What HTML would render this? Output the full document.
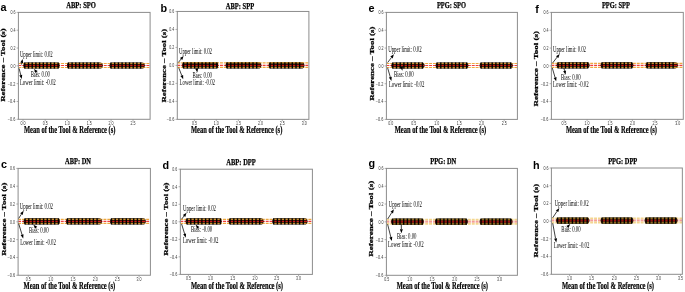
<!DOCTYPE html>
<html><head><meta charset="utf-8"><style>
html,body{margin:0;padding:0;background:#fff;overflow:hidden}
svg{display:block;will-change:transform}
</style></head><body>
<svg xmlns="http://www.w3.org/2000/svg" width="685" height="292" viewBox="0 0 685 292">
<rect width="685" height="292" fill="#fff"/>
<g><line x1="18.4" y1="63.5" x2="150.1" y2="63.5" stroke="#eea940" stroke-width="1.15" stroke-dasharray="2.95 0.93" stroke-dashoffset="0"/><line x1="18.4" y1="65.5" x2="150.1" y2="65.5" stroke="#f03c3c" stroke-width="1.15" stroke-dasharray="2.95 0.93" stroke-dashoffset="0"/><line x1="18.4" y1="67.5" x2="150.1" y2="67.5" stroke="#eea940" stroke-width="1.15" stroke-dasharray="2.95 0.93" stroke-dashoffset="0"/><rect x="23.3" y="62.4" width="36.4" height="6.2" rx="3.1" ry="3.1" fill="#140800"/><rect x="24.3" y="62.85" width="34.4" height="1.3" fill="#c99030"/><rect x="23.8" y="64.85" width="35.4" height="1.3" fill="#cc1818"/><rect x="24.3" y="66.85" width="34.4" height="1.3" fill="#c99030"/><rect x="24.1" y="62.4" width="1.4" height="6.2" fill="#000"/><rect x="27.8" y="62.4" width="1.4" height="6.2" fill="#000"/><rect x="31.5" y="62.4" width="1.4" height="6.2" fill="#000"/><rect x="35.2" y="62.4" width="1.4" height="6.2" fill="#000"/><rect x="38.9" y="62.4" width="1.4" height="6.2" fill="#000"/><rect x="42.6" y="62.4" width="1.4" height="6.2" fill="#000"/><rect x="46.3" y="62.4" width="1.4" height="6.2" fill="#000"/><rect x="50" y="62.4" width="1.4" height="6.2" fill="#000"/><rect x="53.7" y="62.4" width="1.4" height="6.2" fill="#000"/><rect x="57.4" y="62.4" width="1.4" height="6.2" fill="#000"/><rect x="66.9" y="62.4" width="35.9" height="6.2" rx="3.1" ry="3.1" fill="#140800"/><rect x="67.9" y="62.85" width="33.9" height="1.3" fill="#c99030"/><rect x="67.4" y="64.85" width="34.9" height="1.3" fill="#cc1818"/><rect x="67.9" y="66.85" width="33.9" height="1.3" fill="#c99030"/><rect x="67.7" y="62.4" width="1.4" height="6.2" fill="#000"/><rect x="71.4" y="62.4" width="1.4" height="6.2" fill="#000"/><rect x="75.1" y="62.4" width="1.4" height="6.2" fill="#000"/><rect x="78.8" y="62.4" width="1.4" height="6.2" fill="#000"/><rect x="82.5" y="62.4" width="1.4" height="6.2" fill="#000"/><rect x="86.2" y="62.4" width="1.4" height="6.2" fill="#000"/><rect x="89.9" y="62.4" width="1.4" height="6.2" fill="#000"/><rect x="93.6" y="62.4" width="1.4" height="6.2" fill="#000"/><rect x="97.3" y="62.4" width="1.4" height="6.2" fill="#000"/><rect x="109.5" y="62.4" width="35.3" height="6.2" rx="3.1" ry="3.1" fill="#140800"/><rect x="110.5" y="62.85" width="33.3" height="1.3" fill="#c99030"/><rect x="110" y="64.85" width="34.3" height="1.3" fill="#cc1818"/><rect x="110.5" y="66.85" width="33.3" height="1.3" fill="#c99030"/><rect x="110.3" y="62.4" width="1.4" height="6.2" fill="#000"/><rect x="114" y="62.4" width="1.4" height="6.2" fill="#000"/><rect x="117.7" y="62.4" width="1.4" height="6.2" fill="#000"/><rect x="121.4" y="62.4" width="1.4" height="6.2" fill="#000"/><rect x="125.1" y="62.4" width="1.4" height="6.2" fill="#000"/><rect x="128.8" y="62.4" width="1.4" height="6.2" fill="#000"/><rect x="132.5" y="62.4" width="1.4" height="6.2" fill="#000"/><rect x="136.2" y="62.4" width="1.4" height="6.2" fill="#000"/><rect x="139.9" y="62.4" width="1.4" height="6.2" fill="#000"/><rect x="18.4" y="12.4" width="131.7" height="106.9" fill="none" stroke="#8c8c8c" stroke-width="1"/><line x1="16.6" y1="12.4" x2="18.4" y2="12.4" stroke="#8c8c8c" stroke-width="0.7"/><text x="15.4" y="14.3" text-anchor="end" font-family="'Liberation Sans', sans-serif" font-size="4.5" fill="#383838" textLength="5.0" lengthAdjust="spacingAndGlyphs">0.6</text><line x1="16.6" y1="30.22" x2="18.4" y2="30.22" stroke="#8c8c8c" stroke-width="0.7"/><text x="15.4" y="32.12" text-anchor="end" font-family="'Liberation Sans', sans-serif" font-size="4.5" fill="#383838" textLength="5.0" lengthAdjust="spacingAndGlyphs">0.4</text><line x1="16.6" y1="48.03" x2="18.4" y2="48.03" stroke="#8c8c8c" stroke-width="0.7"/><text x="15.4" y="49.93" text-anchor="end" font-family="'Liberation Sans', sans-serif" font-size="4.5" fill="#383838" textLength="5.0" lengthAdjust="spacingAndGlyphs">0.2</text><line x1="16.6" y1="65.85" x2="18.4" y2="65.85" stroke="#8c8c8c" stroke-width="0.7"/><text x="15.4" y="67.75" text-anchor="end" font-family="'Liberation Sans', sans-serif" font-size="4.5" fill="#383838" textLength="5.0" lengthAdjust="spacingAndGlyphs">0.0</text><line x1="16.6" y1="83.67" x2="18.4" y2="83.67" stroke="#8c8c8c" stroke-width="0.7"/><text x="15.4" y="85.57" text-anchor="end" font-family="'Liberation Sans', sans-serif" font-size="4.5" fill="#383838" textLength="7.6" lengthAdjust="spacingAndGlyphs">−0.2</text><line x1="16.6" y1="101.48" x2="18.4" y2="101.48" stroke="#8c8c8c" stroke-width="0.7"/><text x="15.4" y="103.38" text-anchor="end" font-family="'Liberation Sans', sans-serif" font-size="4.5" fill="#383838" textLength="7.6" lengthAdjust="spacingAndGlyphs">−0.4</text><line x1="16.6" y1="119.3" x2="18.4" y2="119.3" stroke="#8c8c8c" stroke-width="0.7"/><text x="15.4" y="121.2" text-anchor="end" font-family="'Liberation Sans', sans-serif" font-size="4.5" fill="#383838" textLength="7.6" lengthAdjust="spacingAndGlyphs">−0.6</text><line x1="23" y1="119.3" x2="23" y2="121.1" stroke="#8c8c8c" stroke-width="0.7"/><text x="20.5" y="124.9" font-family="'Liberation Sans', sans-serif" font-size="4.5" fill="#383838" textLength="5" lengthAdjust="spacingAndGlyphs">0.0</text><line x1="45.2" y1="119.3" x2="45.2" y2="121.1" stroke="#8c8c8c" stroke-width="0.7"/><text x="42.7" y="124.9" font-family="'Liberation Sans', sans-serif" font-size="4.5" fill="#383838" textLength="5" lengthAdjust="spacingAndGlyphs">0.5</text><line x1="67.2" y1="119.3" x2="67.2" y2="121.1" stroke="#8c8c8c" stroke-width="0.7"/><text x="64.7" y="124.9" font-family="'Liberation Sans', sans-serif" font-size="4.5" fill="#383838" textLength="5" lengthAdjust="spacingAndGlyphs">1.0</text><line x1="89.2" y1="119.3" x2="89.2" y2="121.1" stroke="#8c8c8c" stroke-width="0.7"/><text x="86.7" y="124.9" font-family="'Liberation Sans', sans-serif" font-size="4.5" fill="#383838" textLength="5" lengthAdjust="spacingAndGlyphs">1.5</text><line x1="111.1" y1="119.3" x2="111.1" y2="121.1" stroke="#8c8c8c" stroke-width="0.7"/><text x="108.6" y="124.9" font-family="'Liberation Sans', sans-serif" font-size="4.5" fill="#383838" textLength="5" lengthAdjust="spacingAndGlyphs">2.0</text><line x1="133" y1="119.3" x2="133" y2="121.1" stroke="#8c8c8c" stroke-width="0.7"/><text x="130.5" y="124.9" font-family="'Liberation Sans', sans-serif" font-size="4.5" fill="#383838" textLength="5" lengthAdjust="spacingAndGlyphs">2.5</text><text x="66.2" y="7.8" font-family="'Liberation Serif', serif" font-weight="bold" font-size="9.2" stroke="#000" stroke-width="0.25" textLength="29.8" lengthAdjust="spacingAndGlyphs">ABP: SPO</text><text x="0.5" y="11.3" font-family="'Liberation Sans', sans-serif" font-weight="bold" font-size="10.8">a</text><text x="0" y="0" font-family="'Liberation Serif', serif" font-weight="bold" font-size="7.0" stroke="#000" stroke-width="0.25" textLength="73.5" lengthAdjust="spacingAndGlyphs" transform="translate(5.3 101.8) rotate(-90)">Reference – Tool (s)</text><text x="23.9" y="133.2" font-family="'Liberation Serif', serif" font-weight="bold" font-size="9.4" stroke="#000" stroke-width="0.2" textLength="91.5" lengthAdjust="spacingAndGlyphs">Mean of the Tool &amp; Reference (s)</text><text x="19.9" y="56.8" font-family="'Liberation Serif', serif" font-size="7.2" fill="#000" textLength="32.8" lengthAdjust="spacingAndGlyphs">Upper limit: 0.02</text><text x="19.9" y="84.8" font-family="'Liberation Serif', serif" font-size="7.2" fill="#000" textLength="35.9" lengthAdjust="spacingAndGlyphs">Lower limit: -0.02</text><text x="30.7" y="76.8" font-family="'Liberation Serif', serif" font-size="7.2" fill="#000" textLength="19.2" lengthAdjust="spacingAndGlyphs">Bias: 0.00</text><line x1="21.4" y1="64.5" x2="21.76" y2="62.81" stroke="#000" stroke-width="0.75"/><path d="M22.6,58.9 L23.23,63.13 L20.3,62.5 Z" fill="#000"/><line x1="37" y1="72.6" x2="36.55" y2="72.09" stroke="#000" stroke-width="0.75"/><path d="M33.9,69.1 L37.68,71.1 L35.43,73.09 Z" fill="#000"/><line x1="19.1" y1="68.4" x2="20.74" y2="75.02" stroke="#000" stroke-width="0.75"/><path d="M21.7,78.9 L19.28,75.38 L22.19,74.66 Z" fill="#000"/></g><g><line x1="177.3" y1="62.85" x2="308.9" y2="62.85" stroke="#eea940" stroke-width="1.15" stroke-dasharray="2.95 0.93" stroke-dashoffset="0"/><line x1="177.3" y1="65.4" x2="308.9" y2="65.4" stroke="#f03c3c" stroke-width="1.15" stroke-dasharray="2.95 0.93" stroke-dashoffset="0"/><line x1="177.3" y1="67.35" x2="308.9" y2="67.35" stroke="#eea940" stroke-width="1.15" stroke-dasharray="2.95 0.93" stroke-dashoffset="0"/><rect x="182.1" y="62.3" width="36.1" height="6.2" rx="3.1" ry="3.1" fill="#140800"/><rect x="183.1" y="62.2" width="34.1" height="1.3" fill="#c99030"/><rect x="182.6" y="64.75" width="35.1" height="1.3" fill="#cc1818"/><rect x="183.1" y="66.7" width="34.1" height="1.3" fill="#c99030"/><rect x="182.9" y="62.3" width="1.4" height="6.2" fill="#000"/><rect x="186.6" y="62.3" width="1.4" height="6.2" fill="#000"/><rect x="190.3" y="62.3" width="1.4" height="6.2" fill="#000"/><rect x="194" y="62.3" width="1.4" height="6.2" fill="#000"/><rect x="197.7" y="62.3" width="1.4" height="6.2" fill="#000"/><rect x="201.4" y="62.3" width="1.4" height="6.2" fill="#000"/><rect x="205.1" y="62.3" width="1.4" height="6.2" fill="#000"/><rect x="208.8" y="62.3" width="1.4" height="6.2" fill="#000"/><rect x="212.5" y="62.3" width="1.4" height="6.2" fill="#000"/><rect x="216.2" y="62.3" width="1.4" height="6.2" fill="#000"/><rect x="225.6" y="62.3" width="35.7" height="6.2" rx="3.1" ry="3.1" fill="#140800"/><rect x="226.6" y="62.2" width="33.7" height="1.3" fill="#c99030"/><rect x="226.1" y="64.75" width="34.7" height="1.3" fill="#cc1818"/><rect x="226.6" y="66.7" width="33.7" height="1.3" fill="#c99030"/><rect x="226.4" y="62.3" width="1.4" height="6.2" fill="#000"/><rect x="230.1" y="62.3" width="1.4" height="6.2" fill="#000"/><rect x="233.8" y="62.3" width="1.4" height="6.2" fill="#000"/><rect x="237.5" y="62.3" width="1.4" height="6.2" fill="#000"/><rect x="241.2" y="62.3" width="1.4" height="6.2" fill="#000"/><rect x="244.9" y="62.3" width="1.4" height="6.2" fill="#000"/><rect x="248.6" y="62.3" width="1.4" height="6.2" fill="#000"/><rect x="252.3" y="62.3" width="1.4" height="6.2" fill="#000"/><rect x="256" y="62.3" width="1.4" height="6.2" fill="#000"/><rect x="268.6" y="62.3" width="35.8" height="6.2" rx="3.1" ry="3.1" fill="#140800"/><rect x="269.6" y="62.2" width="33.8" height="1.3" fill="#c99030"/><rect x="269.1" y="64.75" width="34.8" height="1.3" fill="#cc1818"/><rect x="269.6" y="66.7" width="33.8" height="1.3" fill="#c99030"/><rect x="269.4" y="62.3" width="1.4" height="6.2" fill="#000"/><rect x="273.1" y="62.3" width="1.4" height="6.2" fill="#000"/><rect x="276.8" y="62.3" width="1.4" height="6.2" fill="#000"/><rect x="280.5" y="62.3" width="1.4" height="6.2" fill="#000"/><rect x="284.2" y="62.3" width="1.4" height="6.2" fill="#000"/><rect x="287.9" y="62.3" width="1.4" height="6.2" fill="#000"/><rect x="291.6" y="62.3" width="1.4" height="6.2" fill="#000"/><rect x="295.3" y="62.3" width="1.4" height="6.2" fill="#000"/><rect x="299" y="62.3" width="1.4" height="6.2" fill="#000"/><rect x="177.3" y="11.45" width="131.6" height="107.9" fill="none" stroke="#8c8c8c" stroke-width="1"/><line x1="175.5" y1="11.45" x2="177.3" y2="11.45" stroke="#8c8c8c" stroke-width="0.7"/><text x="174.3" y="13.35" text-anchor="end" font-family="'Liberation Sans', sans-serif" font-size="4.5" fill="#383838" textLength="5.0" lengthAdjust="spacingAndGlyphs">0.6</text><line x1="175.5" y1="29.43" x2="177.3" y2="29.43" stroke="#8c8c8c" stroke-width="0.7"/><text x="174.3" y="31.33" text-anchor="end" font-family="'Liberation Sans', sans-serif" font-size="4.5" fill="#383838" textLength="5.0" lengthAdjust="spacingAndGlyphs">0.4</text><line x1="175.5" y1="47.42" x2="177.3" y2="47.42" stroke="#8c8c8c" stroke-width="0.7"/><text x="174.3" y="49.32" text-anchor="end" font-family="'Liberation Sans', sans-serif" font-size="4.5" fill="#383838" textLength="5.0" lengthAdjust="spacingAndGlyphs">0.2</text><line x1="175.5" y1="65.4" x2="177.3" y2="65.4" stroke="#8c8c8c" stroke-width="0.7"/><text x="174.3" y="67.3" text-anchor="end" font-family="'Liberation Sans', sans-serif" font-size="4.5" fill="#383838" textLength="5.0" lengthAdjust="spacingAndGlyphs">0.0</text><line x1="175.5" y1="83.38" x2="177.3" y2="83.38" stroke="#8c8c8c" stroke-width="0.7"/><text x="174.3" y="85.28" text-anchor="end" font-family="'Liberation Sans', sans-serif" font-size="4.5" fill="#383838" textLength="7.6" lengthAdjust="spacingAndGlyphs">−0.2</text><line x1="175.5" y1="101.37" x2="177.3" y2="101.37" stroke="#8c8c8c" stroke-width="0.7"/><text x="174.3" y="103.27" text-anchor="end" font-family="'Liberation Sans', sans-serif" font-size="4.5" fill="#383838" textLength="7.6" lengthAdjust="spacingAndGlyphs">−0.4</text><line x1="175.5" y1="119.35" x2="177.3" y2="119.35" stroke="#8c8c8c" stroke-width="0.7"/><text x="174.3" y="121.25" text-anchor="end" font-family="'Liberation Sans', sans-serif" font-size="4.5" fill="#383838" textLength="7.6" lengthAdjust="spacingAndGlyphs">−0.6</text><line x1="194.4" y1="119.35" x2="194.4" y2="121.15" stroke="#8c8c8c" stroke-width="0.7"/><text x="191.9" y="124.95" font-family="'Liberation Sans', sans-serif" font-size="4.5" fill="#383838" textLength="5" lengthAdjust="spacingAndGlyphs">0.5</text><line x1="216.3" y1="119.35" x2="216.3" y2="121.15" stroke="#8c8c8c" stroke-width="0.7"/><text x="213.8" y="124.95" font-family="'Liberation Sans', sans-serif" font-size="4.5" fill="#383838" textLength="5" lengthAdjust="spacingAndGlyphs">1.0</text><line x1="238.4" y1="119.35" x2="238.4" y2="121.15" stroke="#8c8c8c" stroke-width="0.7"/><text x="235.9" y="124.95" font-family="'Liberation Sans', sans-serif" font-size="4.5" fill="#383838" textLength="5" lengthAdjust="spacingAndGlyphs">1.5</text><line x1="260.4" y1="119.35" x2="260.4" y2="121.15" stroke="#8c8c8c" stroke-width="0.7"/><text x="257.9" y="124.95" font-family="'Liberation Sans', sans-serif" font-size="4.5" fill="#383838" textLength="5" lengthAdjust="spacingAndGlyphs">2.0</text><line x1="282.3" y1="119.35" x2="282.3" y2="121.15" stroke="#8c8c8c" stroke-width="0.7"/><text x="279.8" y="124.95" font-family="'Liberation Sans', sans-serif" font-size="4.5" fill="#383838" textLength="5" lengthAdjust="spacingAndGlyphs">2.5</text><line x1="304.2" y1="119.35" x2="304.2" y2="121.15" stroke="#8c8c8c" stroke-width="0.7"/><text x="301.7" y="124.95" font-family="'Liberation Sans', sans-serif" font-size="4.5" fill="#383838" textLength="5" lengthAdjust="spacingAndGlyphs">3.0</text><text x="225.8" y="8.6" font-family="'Liberation Serif', serif" font-weight="bold" font-size="9.2" stroke="#000" stroke-width="0.25" textLength="28.3" lengthAdjust="spacingAndGlyphs">ABP: SPP</text><text x="160.6" y="11.7" font-family="'Liberation Sans', sans-serif" font-weight="bold" font-size="10.8">b</text><text x="0" y="0" font-family="'Liberation Serif', serif" font-weight="bold" font-size="7.0" stroke="#000" stroke-width="0.25" textLength="73.6" lengthAdjust="spacingAndGlyphs" transform="translate(165.6 102.5) rotate(-90)">Reference – Tool (s)</text><text x="191" y="133.2" font-family="'Liberation Serif', serif" font-weight="bold" font-size="9.4" stroke="#000" stroke-width="0.2" textLength="91.3" lengthAdjust="spacingAndGlyphs">Mean of the Tool &amp; Reference (s)</text><text x="179" y="53.6" font-family="'Liberation Serif', serif" font-size="7.2" fill="#000" textLength="33" lengthAdjust="spacingAndGlyphs">Upper limit: 0.02</text><text x="179.6" y="84.9" font-family="'Liberation Serif', serif" font-size="7.2" fill="#000" textLength="35.4" lengthAdjust="spacingAndGlyphs">Lower limit: -0.02</text><text x="192.5" y="77.7" font-family="'Liberation Serif', serif" font-size="7.2" fill="#000" textLength="19.5" lengthAdjust="spacingAndGlyphs">Bias: 0.00</text><line x1="178.4" y1="62.4" x2="181.1" y2="59.02" stroke="#000" stroke-width="0.75"/><path d="M183.6,55.9 L182.27,59.96 L179.93,58.09 Z" fill="#000"/><line x1="196.6" y1="67.8" x2="196.7" y2="68.45" stroke="#000" stroke-width="0.75"/><path d="M197.3,72.4 L195.22,68.67 L198.18,68.22 Z" fill="#000"/><line x1="178.7" y1="67.7" x2="181.74" y2="75.48" stroke="#000" stroke-width="0.75"/><path d="M183.2,79.2 L180.35,76.02 L183.14,74.93 Z" fill="#000"/></g><g><line x1="18.1" y1="219.4" x2="150.4" y2="219.4" stroke="#eea940" stroke-width="1.15" stroke-dasharray="2.95 0.93" stroke-dashoffset="0"/><line x1="18.1" y1="221.4" x2="150.4" y2="221.4" stroke="#f03c3c" stroke-width="1.15" stroke-dasharray="2.95 0.93" stroke-dashoffset="0"/><line x1="18.1" y1="223.4" x2="150.4" y2="223.4" stroke="#eea940" stroke-width="1.15" stroke-dasharray="2.95 0.93" stroke-dashoffset="0"/><rect x="23.6" y="218.3" width="36.3" height="6.2" rx="3.1" ry="3.1" fill="#140800"/><rect x="24.6" y="218.75" width="34.3" height="1.3" fill="#c99030"/><rect x="24.1" y="220.75" width="35.3" height="1.3" fill="#cc1818"/><rect x="24.6" y="222.75" width="34.3" height="1.3" fill="#c99030"/><rect x="24.4" y="218.3" width="1.4" height="6.2" fill="#000"/><rect x="28.1" y="218.3" width="1.4" height="6.2" fill="#000"/><rect x="31.8" y="218.3" width="1.4" height="6.2" fill="#000"/><rect x="35.5" y="218.3" width="1.4" height="6.2" fill="#000"/><rect x="39.2" y="218.3" width="1.4" height="6.2" fill="#000"/><rect x="42.9" y="218.3" width="1.4" height="6.2" fill="#000"/><rect x="46.6" y="218.3" width="1.4" height="6.2" fill="#000"/><rect x="50.3" y="218.3" width="1.4" height="6.2" fill="#000"/><rect x="54" y="218.3" width="1.4" height="6.2" fill="#000"/><rect x="57.7" y="218.3" width="1.4" height="6.2" fill="#000"/><rect x="66" y="218.3" width="35.9" height="6.2" rx="3.1" ry="3.1" fill="#140800"/><rect x="67" y="218.75" width="33.9" height="1.3" fill="#c99030"/><rect x="66.5" y="220.75" width="34.9" height="1.3" fill="#cc1818"/><rect x="67" y="222.75" width="33.9" height="1.3" fill="#c99030"/><rect x="66.8" y="218.3" width="1.4" height="6.2" fill="#000"/><rect x="70.5" y="218.3" width="1.4" height="6.2" fill="#000"/><rect x="74.2" y="218.3" width="1.4" height="6.2" fill="#000"/><rect x="77.9" y="218.3" width="1.4" height="6.2" fill="#000"/><rect x="81.6" y="218.3" width="1.4" height="6.2" fill="#000"/><rect x="85.3" y="218.3" width="1.4" height="6.2" fill="#000"/><rect x="89" y="218.3" width="1.4" height="6.2" fill="#000"/><rect x="92.7" y="218.3" width="1.4" height="6.2" fill="#000"/><rect x="96.4" y="218.3" width="1.4" height="6.2" fill="#000"/><rect x="110" y="218.3" width="35.8" height="6.2" rx="3.1" ry="3.1" fill="#140800"/><rect x="111" y="218.75" width="33.8" height="1.3" fill="#c99030"/><rect x="110.5" y="220.75" width="34.8" height="1.3" fill="#cc1818"/><rect x="111" y="222.75" width="33.8" height="1.3" fill="#c99030"/><rect x="110.8" y="218.3" width="1.4" height="6.2" fill="#000"/><rect x="114.5" y="218.3" width="1.4" height="6.2" fill="#000"/><rect x="118.2" y="218.3" width="1.4" height="6.2" fill="#000"/><rect x="121.9" y="218.3" width="1.4" height="6.2" fill="#000"/><rect x="125.6" y="218.3" width="1.4" height="6.2" fill="#000"/><rect x="129.3" y="218.3" width="1.4" height="6.2" fill="#000"/><rect x="133" y="218.3" width="1.4" height="6.2" fill="#000"/><rect x="136.7" y="218.3" width="1.4" height="6.2" fill="#000"/><rect x="140.4" y="218.3" width="1.4" height="6.2" fill="#000"/><rect x="18.1" y="168.4" width="132.3" height="106.85" fill="none" stroke="#8c8c8c" stroke-width="1"/><line x1="16.3" y1="168.4" x2="18.1" y2="168.4" stroke="#8c8c8c" stroke-width="0.7"/><text x="15.1" y="170.3" text-anchor="end" font-family="'Liberation Sans', sans-serif" font-size="4.5" fill="#383838" textLength="5.0" lengthAdjust="spacingAndGlyphs">0.6</text><line x1="16.3" y1="186.21" x2="18.1" y2="186.21" stroke="#8c8c8c" stroke-width="0.7"/><text x="15.1" y="188.11" text-anchor="end" font-family="'Liberation Sans', sans-serif" font-size="4.5" fill="#383838" textLength="5.0" lengthAdjust="spacingAndGlyphs">0.4</text><line x1="16.3" y1="204.02" x2="18.1" y2="204.02" stroke="#8c8c8c" stroke-width="0.7"/><text x="15.1" y="205.92" text-anchor="end" font-family="'Liberation Sans', sans-serif" font-size="4.5" fill="#383838" textLength="5.0" lengthAdjust="spacingAndGlyphs">0.2</text><line x1="16.3" y1="221.82" x2="18.1" y2="221.82" stroke="#8c8c8c" stroke-width="0.7"/><text x="15.1" y="223.72" text-anchor="end" font-family="'Liberation Sans', sans-serif" font-size="4.5" fill="#383838" textLength="5.0" lengthAdjust="spacingAndGlyphs">0.0</text><line x1="16.3" y1="239.63" x2="18.1" y2="239.63" stroke="#8c8c8c" stroke-width="0.7"/><text x="15.1" y="241.53" text-anchor="end" font-family="'Liberation Sans', sans-serif" font-size="4.5" fill="#383838" textLength="7.6" lengthAdjust="spacingAndGlyphs">−0.2</text><line x1="16.3" y1="257.44" x2="18.1" y2="257.44" stroke="#8c8c8c" stroke-width="0.7"/><text x="15.1" y="259.34" text-anchor="end" font-family="'Liberation Sans', sans-serif" font-size="4.5" fill="#383838" textLength="7.6" lengthAdjust="spacingAndGlyphs">−0.4</text><line x1="16.3" y1="275.25" x2="18.1" y2="275.25" stroke="#8c8c8c" stroke-width="0.7"/><text x="15.1" y="277.15" text-anchor="end" font-family="'Liberation Sans', sans-serif" font-size="4.5" fill="#383838" textLength="7.6" lengthAdjust="spacingAndGlyphs">−0.6</text><line x1="28.3" y1="275.25" x2="28.3" y2="277.05" stroke="#8c8c8c" stroke-width="0.7"/><text x="25.8" y="280.85" font-family="'Liberation Sans', sans-serif" font-size="4.5" fill="#383838" textLength="5" lengthAdjust="spacingAndGlyphs">0.5</text><line x1="50.8" y1="275.25" x2="50.8" y2="277.05" stroke="#8c8c8c" stroke-width="0.7"/><text x="48.3" y="280.85" font-family="'Liberation Sans', sans-serif" font-size="4.5" fill="#383838" textLength="5" lengthAdjust="spacingAndGlyphs">1.0</text><line x1="72.9" y1="275.25" x2="72.9" y2="277.05" stroke="#8c8c8c" stroke-width="0.7"/><text x="70.4" y="280.85" font-family="'Liberation Sans', sans-serif" font-size="4.5" fill="#383838" textLength="5" lengthAdjust="spacingAndGlyphs">1.5</text><line x1="95.2" y1="275.25" x2="95.2" y2="277.05" stroke="#8c8c8c" stroke-width="0.7"/><text x="92.7" y="280.85" font-family="'Liberation Sans', sans-serif" font-size="4.5" fill="#383838" textLength="5" lengthAdjust="spacingAndGlyphs">2.0</text><line x1="117.2" y1="275.25" x2="117.2" y2="277.05" stroke="#8c8c8c" stroke-width="0.7"/><text x="114.7" y="280.85" font-family="'Liberation Sans', sans-serif" font-size="4.5" fill="#383838" textLength="5" lengthAdjust="spacingAndGlyphs">2.5</text><line x1="139.1" y1="275.25" x2="139.1" y2="277.05" stroke="#8c8c8c" stroke-width="0.7"/><text x="136.6" y="280.85" font-family="'Liberation Sans', sans-serif" font-size="4.5" fill="#383838" textLength="5" lengthAdjust="spacingAndGlyphs">3.0</text><text x="65.1" y="163.8" font-family="'Liberation Serif', serif" font-weight="bold" font-size="9.2" stroke="#000" stroke-width="0.25" textLength="25.8" lengthAdjust="spacingAndGlyphs">ABP: DN</text><text x="1.1" y="168" font-family="'Liberation Sans', sans-serif" font-weight="bold" font-size="10.8">c</text><text x="0" y="0" font-family="'Liberation Serif', serif" font-weight="bold" font-size="7.0" stroke="#000" stroke-width="0.25" textLength="73.2" lengthAdjust="spacingAndGlyphs" transform="translate(5.6 255.8) rotate(-90)">Reference – Tool (s)</text><text x="23.6" y="288.6" font-family="'Liberation Serif', serif" font-weight="bold" font-size="9.4" stroke="#000" stroke-width="0.2" textLength="91.6" lengthAdjust="spacingAndGlyphs">Mean of the Tool &amp; Reference (s)</text><text x="19.8" y="208.8" font-family="'Liberation Serif', serif" font-size="7.2" fill="#000" textLength="33.2" lengthAdjust="spacingAndGlyphs">Upper limit: 0.02</text><text x="20.2" y="244.5" font-family="'Liberation Serif', serif" font-size="7.2" fill="#000" textLength="35.8" lengthAdjust="spacingAndGlyphs">Lower limit: -0.02</text><text x="29" y="232.8" font-family="'Liberation Serif', serif" font-size="7.2" fill="#000" textLength="19.7" lengthAdjust="spacingAndGlyphs">Bias: 0.00</text><line x1="18.7" y1="218.4" x2="21.43" y2="214.16" stroke="#000" stroke-width="0.75"/><path d="M23.6,210.8 L22.69,214.97 L20.17,213.35 Z" fill="#000"/><line x1="36.6" y1="228.4" x2="36.11" y2="227.83" stroke="#000" stroke-width="0.75"/><path d="M33.5,224.8 L37.25,226.85 L34.97,228.81 Z" fill="#000"/><line x1="18.7" y1="223.7" x2="22.04" y2="234.67" stroke="#000" stroke-width="0.75"/><path d="M23.2,238.5 L20.6,235.11 L23.47,234.24 Z" fill="#000"/></g><g><line x1="180.35" y1="219.4" x2="312.4" y2="219.4" stroke="#eea940" stroke-width="1.15" stroke-dasharray="2.95 0.93" stroke-dashoffset="0"/><line x1="180.35" y1="221.4" x2="312.4" y2="221.4" stroke="#f03c3c" stroke-width="1.15" stroke-dasharray="2.95 0.93" stroke-dashoffset="0"/><line x1="180.35" y1="223.4" x2="312.4" y2="223.4" stroke="#eea940" stroke-width="1.15" stroke-dasharray="2.95 0.93" stroke-dashoffset="0"/><rect x="185.6" y="218.3" width="36" height="6.2" rx="3.1" ry="3.1" fill="#140800"/><rect x="186.6" y="218.75" width="34" height="1.3" fill="#c99030"/><rect x="186.1" y="220.75" width="35" height="1.3" fill="#cc1818"/><rect x="186.6" y="222.75" width="34" height="1.3" fill="#c99030"/><rect x="186.4" y="218.3" width="1.4" height="6.2" fill="#000"/><rect x="190.1" y="218.3" width="1.4" height="6.2" fill="#000"/><rect x="193.8" y="218.3" width="1.4" height="6.2" fill="#000"/><rect x="197.5" y="218.3" width="1.4" height="6.2" fill="#000"/><rect x="201.2" y="218.3" width="1.4" height="6.2" fill="#000"/><rect x="204.9" y="218.3" width="1.4" height="6.2" fill="#000"/><rect x="208.6" y="218.3" width="1.4" height="6.2" fill="#000"/><rect x="212.3" y="218.3" width="1.4" height="6.2" fill="#000"/><rect x="216" y="218.3" width="1.4" height="6.2" fill="#000"/><rect x="219.7" y="218.3" width="1.4" height="6.2" fill="#000"/><rect x="228.6" y="218.3" width="35" height="6.2" rx="3.1" ry="3.1" fill="#140800"/><rect x="229.6" y="218.75" width="33" height="1.3" fill="#c99030"/><rect x="229.1" y="220.75" width="34" height="1.3" fill="#cc1818"/><rect x="229.6" y="222.75" width="33" height="1.3" fill="#c99030"/><rect x="229.4" y="218.3" width="1.4" height="6.2" fill="#000"/><rect x="233.1" y="218.3" width="1.4" height="6.2" fill="#000"/><rect x="236.8" y="218.3" width="1.4" height="6.2" fill="#000"/><rect x="240.5" y="218.3" width="1.4" height="6.2" fill="#000"/><rect x="244.2" y="218.3" width="1.4" height="6.2" fill="#000"/><rect x="247.9" y="218.3" width="1.4" height="6.2" fill="#000"/><rect x="251.6" y="218.3" width="1.4" height="6.2" fill="#000"/><rect x="255.3" y="218.3" width="1.4" height="6.2" fill="#000"/><rect x="259" y="218.3" width="1.4" height="6.2" fill="#000"/><rect x="272.2" y="218.3" width="35.3" height="6.2" rx="3.1" ry="3.1" fill="#140800"/><rect x="273.2" y="218.75" width="33.3" height="1.3" fill="#c99030"/><rect x="272.7" y="220.75" width="34.3" height="1.3" fill="#cc1818"/><rect x="273.2" y="222.75" width="33.3" height="1.3" fill="#c99030"/><rect x="273" y="218.3" width="1.4" height="6.2" fill="#000"/><rect x="276.7" y="218.3" width="1.4" height="6.2" fill="#000"/><rect x="280.4" y="218.3" width="1.4" height="6.2" fill="#000"/><rect x="284.1" y="218.3" width="1.4" height="6.2" fill="#000"/><rect x="287.8" y="218.3" width="1.4" height="6.2" fill="#000"/><rect x="291.5" y="218.3" width="1.4" height="6.2" fill="#000"/><rect x="295.2" y="218.3" width="1.4" height="6.2" fill="#000"/><rect x="298.9" y="218.3" width="1.4" height="6.2" fill="#000"/><rect x="302.6" y="218.3" width="1.4" height="6.2" fill="#000"/><rect x="180.35" y="169.2" width="132.05" height="105.2" fill="none" stroke="#8c8c8c" stroke-width="1"/><line x1="178.55" y1="169.2" x2="180.35" y2="169.2" stroke="#8c8c8c" stroke-width="0.7"/><text x="177.35" y="171.1" text-anchor="end" font-family="'Liberation Sans', sans-serif" font-size="4.5" fill="#383838" textLength="5.0" lengthAdjust="spacingAndGlyphs">0.6</text><line x1="178.55" y1="186.73" x2="180.35" y2="186.73" stroke="#8c8c8c" stroke-width="0.7"/><text x="177.35" y="188.63" text-anchor="end" font-family="'Liberation Sans', sans-serif" font-size="4.5" fill="#383838" textLength="5.0" lengthAdjust="spacingAndGlyphs">0.4</text><line x1="178.55" y1="204.27" x2="180.35" y2="204.27" stroke="#8c8c8c" stroke-width="0.7"/><text x="177.35" y="206.17" text-anchor="end" font-family="'Liberation Sans', sans-serif" font-size="4.5" fill="#383838" textLength="5.0" lengthAdjust="spacingAndGlyphs">0.2</text><line x1="178.55" y1="221.8" x2="180.35" y2="221.8" stroke="#8c8c8c" stroke-width="0.7"/><text x="177.35" y="223.7" text-anchor="end" font-family="'Liberation Sans', sans-serif" font-size="4.5" fill="#383838" textLength="5.0" lengthAdjust="spacingAndGlyphs">0.0</text><line x1="178.55" y1="239.33" x2="180.35" y2="239.33" stroke="#8c8c8c" stroke-width="0.7"/><text x="177.35" y="241.23" text-anchor="end" font-family="'Liberation Sans', sans-serif" font-size="4.5" fill="#383838" textLength="7.6" lengthAdjust="spacingAndGlyphs">−0.2</text><line x1="178.55" y1="256.87" x2="180.35" y2="256.87" stroke="#8c8c8c" stroke-width="0.7"/><text x="177.35" y="258.77" text-anchor="end" font-family="'Liberation Sans', sans-serif" font-size="4.5" fill="#383838" textLength="7.6" lengthAdjust="spacingAndGlyphs">−0.4</text><line x1="178.55" y1="274.4" x2="180.35" y2="274.4" stroke="#8c8c8c" stroke-width="0.7"/><text x="177.35" y="276.3" text-anchor="end" font-family="'Liberation Sans', sans-serif" font-size="4.5" fill="#383838" textLength="7.6" lengthAdjust="spacingAndGlyphs">−0.6</text><line x1="188.4" y1="274.4" x2="188.4" y2="276.2" stroke="#8c8c8c" stroke-width="0.7"/><text x="185.9" y="280" font-family="'Liberation Sans', sans-serif" font-size="4.5" fill="#383838" textLength="5" lengthAdjust="spacingAndGlyphs">0.5</text><line x1="210.6" y1="274.4" x2="210.6" y2="276.2" stroke="#8c8c8c" stroke-width="0.7"/><text x="208.1" y="280" font-family="'Liberation Sans', sans-serif" font-size="4.5" fill="#383838" textLength="5" lengthAdjust="spacingAndGlyphs">1.0</text><line x1="232.8" y1="274.4" x2="232.8" y2="276.2" stroke="#8c8c8c" stroke-width="0.7"/><text x="230.3" y="280" font-family="'Liberation Sans', sans-serif" font-size="4.5" fill="#383838" textLength="5" lengthAdjust="spacingAndGlyphs">1.5</text><line x1="255" y1="274.4" x2="255" y2="276.2" stroke="#8c8c8c" stroke-width="0.7"/><text x="252.5" y="280" font-family="'Liberation Sans', sans-serif" font-size="4.5" fill="#383838" textLength="5" lengthAdjust="spacingAndGlyphs">2.0</text><line x1="276.7" y1="274.4" x2="276.7" y2="276.2" stroke="#8c8c8c" stroke-width="0.7"/><text x="274.2" y="280" font-family="'Liberation Sans', sans-serif" font-size="4.5" fill="#383838" textLength="5" lengthAdjust="spacingAndGlyphs">2.5</text><line x1="298.6" y1="274.4" x2="298.6" y2="276.2" stroke="#8c8c8c" stroke-width="0.7"/><text x="296.1" y="280" font-family="'Liberation Sans', sans-serif" font-size="4.5" fill="#383838" textLength="5" lengthAdjust="spacingAndGlyphs">3.0</text><text x="226.3" y="164.8" font-family="'Liberation Serif', serif" font-weight="bold" font-size="9.2" stroke="#000" stroke-width="0.25" textLength="29.5" lengthAdjust="spacingAndGlyphs">ABP: DPP</text><text x="162.5" y="169.1" font-family="'Liberation Sans', sans-serif" font-weight="bold" font-size="10.8">d</text><text x="0" y="0" font-family="'Liberation Serif', serif" font-weight="bold" font-size="7.0" stroke="#000" stroke-width="0.25" textLength="73.3" lengthAdjust="spacingAndGlyphs" transform="translate(167.6 255.8) rotate(-90)">Reference – Tool (s)</text><text x="190.9" y="288.9" font-family="'Liberation Serif', serif" font-weight="bold" font-size="9.4" stroke="#000" stroke-width="0.2" textLength="92.1" lengthAdjust="spacingAndGlyphs">Mean of the Tool &amp; Reference (s)</text><text x="183.1" y="210.8" font-family="'Liberation Serif', serif" font-size="7.2" fill="#000" textLength="32.9" lengthAdjust="spacingAndGlyphs">Upper limit: 0.02</text><text x="182.9" y="242.5" font-family="'Liberation Serif', serif" font-size="7.2" fill="#000" textLength="35.6" lengthAdjust="spacingAndGlyphs">Lower limit: -0.02</text><text x="191" y="232" font-family="'Liberation Serif', serif" font-size="7.2" fill="#000" textLength="21.3" lengthAdjust="spacingAndGlyphs">Bias: -0.00</text><line x1="181.6" y1="219.2" x2="184.07" y2="215.98" stroke="#000" stroke-width="0.75"/><path d="M186.5,212.8 L185.26,216.89 L182.88,215.06 Z" fill="#000"/><line x1="198.3" y1="228" x2="198.18" y2="227.84" stroke="#000" stroke-width="0.75"/><path d="M195.7,224.7 L199.35,226.91 L197,228.77 Z" fill="#000"/><line x1="181.6" y1="224" x2="184.63" y2="233.88" stroke="#000" stroke-width="0.75"/><path d="M185.8,237.7 L183.19,234.32 L186.06,233.44 Z" fill="#000"/></g><g><line x1="386.4" y1="63.5" x2="517.4" y2="63.5" stroke="#eea940" stroke-width="1.15" stroke-dasharray="2.95 0.93" stroke-dashoffset="0"/><line x1="386.4" y1="65.5" x2="517.4" y2="65.5" stroke="#f03c3c" stroke-width="1.15" stroke-dasharray="2.95 0.93" stroke-dashoffset="0"/><line x1="386.4" y1="67.5" x2="517.4" y2="67.5" stroke="#eea940" stroke-width="1.15" stroke-dasharray="2.95 0.93" stroke-dashoffset="0"/><rect x="391.3" y="62.4" width="33.3" height="6.2" rx="3.1" ry="3.1" fill="#140800"/><rect x="392.3" y="62.85" width="31.3" height="1.3" fill="#c99030"/><rect x="391.8" y="64.85" width="32.3" height="1.3" fill="#cc1818"/><rect x="392.3" y="66.85" width="31.3" height="1.3" fill="#c99030"/><rect x="392.1" y="62.4" width="1.4" height="6.2" fill="#000"/><rect x="395.8" y="62.4" width="1.4" height="6.2" fill="#000"/><rect x="399.5" y="62.4" width="1.4" height="6.2" fill="#000"/><rect x="403.2" y="62.4" width="1.4" height="6.2" fill="#000"/><rect x="406.9" y="62.4" width="1.4" height="6.2" fill="#000"/><rect x="410.6" y="62.4" width="1.4" height="6.2" fill="#000"/><rect x="414.3" y="62.4" width="1.4" height="6.2" fill="#000"/><rect x="418" y="62.4" width="1.4" height="6.2" fill="#000"/><rect x="421.7" y="62.4" width="1.4" height="6.2" fill="#000"/><rect x="435.6" y="62.4" width="32.8" height="6.2" rx="3.1" ry="3.1" fill="#140800"/><rect x="436.6" y="62.85" width="30.8" height="1.3" fill="#c99030"/><rect x="436.1" y="64.85" width="31.8" height="1.3" fill="#cc1818"/><rect x="436.6" y="66.85" width="30.8" height="1.3" fill="#c99030"/><rect x="436.4" y="62.4" width="1.4" height="6.2" fill="#000"/><rect x="440.1" y="62.4" width="1.4" height="6.2" fill="#000"/><rect x="443.8" y="62.4" width="1.4" height="6.2" fill="#000"/><rect x="447.5" y="62.4" width="1.4" height="6.2" fill="#000"/><rect x="451.2" y="62.4" width="1.4" height="6.2" fill="#000"/><rect x="454.9" y="62.4" width="1.4" height="6.2" fill="#000"/><rect x="458.6" y="62.4" width="1.4" height="6.2" fill="#000"/><rect x="462.3" y="62.4" width="1.4" height="6.2" fill="#000"/><rect x="466" y="62.4" width="1.4" height="6.2" fill="#000"/><rect x="479.6" y="62.4" width="33.2" height="6.2" rx="3.1" ry="3.1" fill="#140800"/><rect x="480.6" y="62.85" width="31.2" height="1.3" fill="#c99030"/><rect x="480.1" y="64.85" width="32.2" height="1.3" fill="#cc1818"/><rect x="480.6" y="66.85" width="31.2" height="1.3" fill="#c99030"/><rect x="480.4" y="62.4" width="1.4" height="6.2" fill="#000"/><rect x="484.1" y="62.4" width="1.4" height="6.2" fill="#000"/><rect x="487.8" y="62.4" width="1.4" height="6.2" fill="#000"/><rect x="491.5" y="62.4" width="1.4" height="6.2" fill="#000"/><rect x="495.2" y="62.4" width="1.4" height="6.2" fill="#000"/><rect x="498.9" y="62.4" width="1.4" height="6.2" fill="#000"/><rect x="502.6" y="62.4" width="1.4" height="6.2" fill="#000"/><rect x="506.3" y="62.4" width="1.4" height="6.2" fill="#000"/><rect x="510" y="62.4" width="1.4" height="6.2" fill="#000"/><rect x="386.4" y="12.4" width="131" height="107" fill="none" stroke="#8c8c8c" stroke-width="1"/><line x1="384.6" y1="12.4" x2="386.4" y2="12.4" stroke="#8c8c8c" stroke-width="0.7"/><text x="383.4" y="14.3" text-anchor="end" font-family="'Liberation Sans', sans-serif" font-size="4.5" fill="#383838" textLength="5.0" lengthAdjust="spacingAndGlyphs">0.6</text><line x1="384.6" y1="30.23" x2="386.4" y2="30.23" stroke="#8c8c8c" stroke-width="0.7"/><text x="383.4" y="32.13" text-anchor="end" font-family="'Liberation Sans', sans-serif" font-size="4.5" fill="#383838" textLength="5.0" lengthAdjust="spacingAndGlyphs">0.4</text><line x1="384.6" y1="48.07" x2="386.4" y2="48.07" stroke="#8c8c8c" stroke-width="0.7"/><text x="383.4" y="49.97" text-anchor="end" font-family="'Liberation Sans', sans-serif" font-size="4.5" fill="#383838" textLength="5.0" lengthAdjust="spacingAndGlyphs">0.2</text><line x1="384.6" y1="65.9" x2="386.4" y2="65.9" stroke="#8c8c8c" stroke-width="0.7"/><text x="383.4" y="67.8" text-anchor="end" font-family="'Liberation Sans', sans-serif" font-size="4.5" fill="#383838" textLength="5.0" lengthAdjust="spacingAndGlyphs">0.0</text><line x1="384.6" y1="83.73" x2="386.4" y2="83.73" stroke="#8c8c8c" stroke-width="0.7"/><text x="383.4" y="85.63" text-anchor="end" font-family="'Liberation Sans', sans-serif" font-size="4.5" fill="#383838" textLength="7.6" lengthAdjust="spacingAndGlyphs">−0.2</text><line x1="384.6" y1="101.57" x2="386.4" y2="101.57" stroke="#8c8c8c" stroke-width="0.7"/><text x="383.4" y="103.47" text-anchor="end" font-family="'Liberation Sans', sans-serif" font-size="4.5" fill="#383838" textLength="7.6" lengthAdjust="spacingAndGlyphs">−0.4</text><line x1="384.6" y1="119.4" x2="386.4" y2="119.4" stroke="#8c8c8c" stroke-width="0.7"/><text x="383.4" y="121.3" text-anchor="end" font-family="'Liberation Sans', sans-serif" font-size="4.5" fill="#383838" textLength="7.6" lengthAdjust="spacingAndGlyphs">−0.6</text><line x1="390.8" y1="119.4" x2="390.8" y2="121.2" stroke="#8c8c8c" stroke-width="0.7"/><text x="388.3" y="125" font-family="'Liberation Sans', sans-serif" font-size="4.5" fill="#383838" textLength="5" lengthAdjust="spacingAndGlyphs">0.0</text><line x1="413.8" y1="119.4" x2="413.8" y2="121.2" stroke="#8c8c8c" stroke-width="0.7"/><text x="411.3" y="125" font-family="'Liberation Sans', sans-serif" font-size="4.5" fill="#383838" textLength="5" lengthAdjust="spacingAndGlyphs">0.5</text><line x1="436.7" y1="119.4" x2="436.7" y2="121.2" stroke="#8c8c8c" stroke-width="0.7"/><text x="434.2" y="125" font-family="'Liberation Sans', sans-serif" font-size="4.5" fill="#383838" textLength="5" lengthAdjust="spacingAndGlyphs">1.0</text><line x1="459.3" y1="119.4" x2="459.3" y2="121.2" stroke="#8c8c8c" stroke-width="0.7"/><text x="456.8" y="125" font-family="'Liberation Sans', sans-serif" font-size="4.5" fill="#383838" textLength="5" lengthAdjust="spacingAndGlyphs">1.5</text><line x1="481.6" y1="119.4" x2="481.6" y2="121.2" stroke="#8c8c8c" stroke-width="0.7"/><text x="479.1" y="125" font-family="'Liberation Sans', sans-serif" font-size="4.5" fill="#383838" textLength="5" lengthAdjust="spacingAndGlyphs">2.0</text><line x1="504.2" y1="119.4" x2="504.2" y2="121.2" stroke="#8c8c8c" stroke-width="0.7"/><text x="501.7" y="125" font-family="'Liberation Sans', sans-serif" font-size="4.5" fill="#383838" textLength="5" lengthAdjust="spacingAndGlyphs">2.5</text><text x="436.9" y="8" font-family="'Liberation Serif', serif" font-weight="bold" font-size="9.2" stroke="#000" stroke-width="0.25" textLength="29.1" lengthAdjust="spacingAndGlyphs">PPG: SPO</text><text x="368.5" y="12" font-family="'Liberation Sans', sans-serif" font-weight="bold" font-size="10.8">e</text><text x="0" y="0" font-family="'Liberation Serif', serif" font-weight="bold" font-size="7.0" stroke="#000" stroke-width="0.25" textLength="74.2" lengthAdjust="spacingAndGlyphs" transform="translate(374 100.8) rotate(-90)">Reference – Tool (s)</text><text x="394.7" y="132.6" font-family="'Liberation Serif', serif" font-weight="bold" font-size="9.4" stroke="#000" stroke-width="0.2" textLength="91.5" lengthAdjust="spacingAndGlyphs">Mean of the Tool &amp; Reference (s)</text><text x="388.2" y="51.9" font-family="'Liberation Serif', serif" font-size="7.2" fill="#000" textLength="33.5" lengthAdjust="spacingAndGlyphs">Upper limit: 0.02</text><text x="388.9" y="86.5" font-family="'Liberation Serif', serif" font-size="7.2" fill="#000" textLength="35.5" lengthAdjust="spacingAndGlyphs">Lower limit: -0.02</text><text x="393.9" y="76.6" font-family="'Liberation Serif', serif" font-size="7.2" fill="#000" textLength="19.8" lengthAdjust="spacingAndGlyphs">Bias: 0.00</text><line x1="387.6" y1="62.6" x2="391.48" y2="57.49" stroke="#000" stroke-width="0.75"/><path d="M393.9,54.3 L392.68,58.39 L390.29,56.58 Z" fill="#000"/><path d="M402.3,70.7 L400.08,67.05 L403.03,66.49 Z" fill="#000"/><line x1="387.6" y1="67.8" x2="390.29" y2="77.06" stroke="#000" stroke-width="0.75"/><path d="M391.4,80.9 L388.85,77.48 L391.73,76.64 Z" fill="#000"/></g><g><line x1="551.4" y1="63.35" x2="683.3" y2="63.35" stroke="#eea940" stroke-width="1.15" stroke-dasharray="2.95 0.93" stroke-dashoffset="0"/><line x1="551.4" y1="65.35" x2="683.3" y2="65.35" stroke="#f03c3c" stroke-width="1.15" stroke-dasharray="2.95 0.93" stroke-dashoffset="0"/><line x1="551.4" y1="67.35" x2="683.3" y2="67.35" stroke="#eea940" stroke-width="1.15" stroke-dasharray="2.95 0.93" stroke-dashoffset="0"/><rect x="556.6" y="62.25" width="33" height="6.2" rx="3.1" ry="3.1" fill="#140800"/><rect x="557.6" y="62.7" width="31" height="1.3" fill="#c99030"/><rect x="557.1" y="64.7" width="32" height="1.3" fill="#cc1818"/><rect x="557.6" y="66.7" width="31" height="1.3" fill="#c99030"/><rect x="557.4" y="62.25" width="1.4" height="6.2" fill="#000"/><rect x="561.1" y="62.25" width="1.4" height="6.2" fill="#000"/><rect x="564.8" y="62.25" width="1.4" height="6.2" fill="#000"/><rect x="568.5" y="62.25" width="1.4" height="6.2" fill="#000"/><rect x="572.2" y="62.25" width="1.4" height="6.2" fill="#000"/><rect x="575.9" y="62.25" width="1.4" height="6.2" fill="#000"/><rect x="579.6" y="62.25" width="1.4" height="6.2" fill="#000"/><rect x="583.3" y="62.25" width="1.4" height="6.2" fill="#000"/><rect x="587" y="62.25" width="1.4" height="6.2" fill="#000"/><rect x="600.6" y="62.25" width="32.8" height="6.2" rx="3.1" ry="3.1" fill="#140800"/><rect x="601.6" y="62.7" width="30.8" height="1.3" fill="#c99030"/><rect x="601.1" y="64.7" width="31.8" height="1.3" fill="#cc1818"/><rect x="601.6" y="66.7" width="30.8" height="1.3" fill="#c99030"/><rect x="601.4" y="62.25" width="1.4" height="6.2" fill="#000"/><rect x="605.1" y="62.25" width="1.4" height="6.2" fill="#000"/><rect x="608.8" y="62.25" width="1.4" height="6.2" fill="#000"/><rect x="612.5" y="62.25" width="1.4" height="6.2" fill="#000"/><rect x="616.2" y="62.25" width="1.4" height="6.2" fill="#000"/><rect x="619.9" y="62.25" width="1.4" height="6.2" fill="#000"/><rect x="623.6" y="62.25" width="1.4" height="6.2" fill="#000"/><rect x="627.3" y="62.25" width="1.4" height="6.2" fill="#000"/><rect x="631" y="62.25" width="1.4" height="6.2" fill="#000"/><rect x="645.7" y="62.25" width="32.1" height="6.2" rx="3.1" ry="3.1" fill="#140800"/><rect x="646.7" y="62.7" width="30.1" height="1.3" fill="#c99030"/><rect x="646.2" y="64.7" width="31.1" height="1.3" fill="#cc1818"/><rect x="646.7" y="66.7" width="30.1" height="1.3" fill="#c99030"/><rect x="646.5" y="62.25" width="1.4" height="6.2" fill="#000"/><rect x="650.2" y="62.25" width="1.4" height="6.2" fill="#000"/><rect x="653.9" y="62.25" width="1.4" height="6.2" fill="#000"/><rect x="657.6" y="62.25" width="1.4" height="6.2" fill="#000"/><rect x="661.3" y="62.25" width="1.4" height="6.2" fill="#000"/><rect x="665" y="62.25" width="1.4" height="6.2" fill="#000"/><rect x="668.7" y="62.25" width="1.4" height="6.2" fill="#000"/><rect x="672.4" y="62.25" width="1.4" height="6.2" fill="#000"/><rect x="551.4" y="12.4" width="131.9" height="106.95" fill="none" stroke="#8c8c8c" stroke-width="1"/><line x1="549.6" y1="12.4" x2="551.4" y2="12.4" stroke="#8c8c8c" stroke-width="0.7"/><text x="548.4" y="14.3" text-anchor="end" font-family="'Liberation Sans', sans-serif" font-size="4.5" fill="#383838" textLength="5.0" lengthAdjust="spacingAndGlyphs">0.6</text><line x1="549.6" y1="30.23" x2="551.4" y2="30.23" stroke="#8c8c8c" stroke-width="0.7"/><text x="548.4" y="32.12" text-anchor="end" font-family="'Liberation Sans', sans-serif" font-size="4.5" fill="#383838" textLength="5.0" lengthAdjust="spacingAndGlyphs">0.4</text><line x1="549.6" y1="48.05" x2="551.4" y2="48.05" stroke="#8c8c8c" stroke-width="0.7"/><text x="548.4" y="49.95" text-anchor="end" font-family="'Liberation Sans', sans-serif" font-size="4.5" fill="#383838" textLength="5.0" lengthAdjust="spacingAndGlyphs">0.2</text><line x1="549.6" y1="65.88" x2="551.4" y2="65.88" stroke="#8c8c8c" stroke-width="0.7"/><text x="548.4" y="67.78" text-anchor="end" font-family="'Liberation Sans', sans-serif" font-size="4.5" fill="#383838" textLength="5.0" lengthAdjust="spacingAndGlyphs">0.0</text><line x1="549.6" y1="83.7" x2="551.4" y2="83.7" stroke="#8c8c8c" stroke-width="0.7"/><text x="548.4" y="85.6" text-anchor="end" font-family="'Liberation Sans', sans-serif" font-size="4.5" fill="#383838" textLength="7.6" lengthAdjust="spacingAndGlyphs">−0.2</text><line x1="549.6" y1="101.53" x2="551.4" y2="101.53" stroke="#8c8c8c" stroke-width="0.7"/><text x="548.4" y="103.43" text-anchor="end" font-family="'Liberation Sans', sans-serif" font-size="4.5" fill="#383838" textLength="7.6" lengthAdjust="spacingAndGlyphs">−0.4</text><line x1="549.6" y1="119.35" x2="551.4" y2="119.35" stroke="#8c8c8c" stroke-width="0.7"/><text x="548.4" y="121.25" text-anchor="end" font-family="'Liberation Sans', sans-serif" font-size="4.5" fill="#383838" textLength="7.6" lengthAdjust="spacingAndGlyphs">−0.6</text><line x1="564.1" y1="119.35" x2="564.1" y2="121.15" stroke="#8c8c8c" stroke-width="0.7"/><text x="561.6" y="124.95" font-family="'Liberation Sans', sans-serif" font-size="4.5" fill="#383838" textLength="5" lengthAdjust="spacingAndGlyphs">0.5</text><line x1="587.1" y1="119.35" x2="587.1" y2="121.15" stroke="#8c8c8c" stroke-width="0.7"/><text x="584.6" y="124.95" font-family="'Liberation Sans', sans-serif" font-size="4.5" fill="#383838" textLength="5" lengthAdjust="spacingAndGlyphs">1.0</text><line x1="609.9" y1="119.35" x2="609.9" y2="121.15" stroke="#8c8c8c" stroke-width="0.7"/><text x="607.4" y="124.95" font-family="'Liberation Sans', sans-serif" font-size="4.5" fill="#383838" textLength="5" lengthAdjust="spacingAndGlyphs">1.5</text><line x1="632.4" y1="119.35" x2="632.4" y2="121.15" stroke="#8c8c8c" stroke-width="0.7"/><text x="629.9" y="124.95" font-family="'Liberation Sans', sans-serif" font-size="4.5" fill="#383838" textLength="5" lengthAdjust="spacingAndGlyphs">2.0</text><line x1="655" y1="119.35" x2="655" y2="121.15" stroke="#8c8c8c" stroke-width="0.7"/><text x="652.5" y="124.95" font-family="'Liberation Sans', sans-serif" font-size="4.5" fill="#383838" textLength="5" lengthAdjust="spacingAndGlyphs">2.5</text><line x1="677.8" y1="119.35" x2="677.8" y2="121.15" stroke="#8c8c8c" stroke-width="0.7"/><text x="675.3" y="124.95" font-family="'Liberation Sans', sans-serif" font-size="4.5" fill="#383838" textLength="5" lengthAdjust="spacingAndGlyphs">3.0</text><text x="601.9" y="8" font-family="'Liberation Serif', serif" font-weight="bold" font-size="9.2" stroke="#000" stroke-width="0.25" textLength="27.9" lengthAdjust="spacingAndGlyphs">PPG: SPP</text><text x="535.3" y="13" font-family="'Liberation Sans', sans-serif" font-weight="bold" font-size="10.8">f</text><text x="0" y="0" font-family="'Liberation Serif', serif" font-weight="bold" font-size="7.0" stroke="#000" stroke-width="0.25" textLength="75.6" lengthAdjust="spacingAndGlyphs" transform="translate(538 106.5) rotate(-90)">Reference – Tool (s)</text><text x="565.9" y="132.6" font-family="'Liberation Serif', serif" font-weight="bold" font-size="9.4" stroke="#000" stroke-width="0.2" textLength="91.1" lengthAdjust="spacingAndGlyphs">Mean of the Tool &amp; Reference (s)</text><text x="553" y="51.9" font-family="'Liberation Serif', serif" font-size="7.2" fill="#000" textLength="33" lengthAdjust="spacingAndGlyphs">Upper limit: 0.02</text><text x="553.1" y="86.8" font-family="'Liberation Serif', serif" font-size="7.2" fill="#000" textLength="35.5" lengthAdjust="spacingAndGlyphs">Lower limit: -0.02</text><text x="561" y="80.1" font-family="'Liberation Serif', serif" font-size="7.2" fill="#000" textLength="19.6" lengthAdjust="spacingAndGlyphs">Bias: 0.00</text><line x1="552.7" y1="62.9" x2="557.17" y2="57.07" stroke="#000" stroke-width="0.75"/><path d="M559.6,53.9 L558.36,57.99 L555.98,56.16 Z" fill="#000"/><line x1="563.8" y1="67.8" x2="564.59" y2="70.83" stroke="#000" stroke-width="0.75"/><path d="M565.6,74.7 L563.14,71.21 L566.04,70.45 Z" fill="#000"/><line x1="552.3" y1="68" x2="555.07" y2="77.46" stroke="#000" stroke-width="0.75"/><path d="M556.2,81.3 L553.64,77.88 L556.51,77.04 Z" fill="#000"/></g><g><line x1="386.4" y1="219.7" x2="517.4" y2="219.7" stroke="#f3d68e" stroke-width="2.0" stroke-dasharray="2.95 0.93" stroke-dashoffset="0"/><line x1="386.4" y1="221.7" x2="517.4" y2="221.7" stroke="#f49a9a" stroke-width="2.0" stroke-dasharray="2.95 0.93" stroke-dashoffset="0"/><line x1="386.4" y1="223.7" x2="517.4" y2="223.7" stroke="#f3d68e" stroke-width="2.0" stroke-dasharray="2.95 0.93" stroke-dashoffset="0"/><rect x="391.1" y="218.6" width="32.7" height="6.2" rx="3.1" ry="3.1" fill="#140800"/><rect x="392.1" y="218.85" width="30.7" height="1.7" fill="#8c6a1e"/><rect x="391.6" y="220.7" width="31.7" height="2" fill="#981010"/><rect x="392.1" y="222.85" width="30.7" height="1.7" fill="#8c6a1e"/><rect x="391.9" y="218.6" width="1.4" height="6.2" fill="#000"/><rect x="395.6" y="218.6" width="1.4" height="6.2" fill="#000"/><rect x="399.3" y="218.6" width="1.4" height="6.2" fill="#000"/><rect x="403" y="218.6" width="1.4" height="6.2" fill="#000"/><rect x="406.7" y="218.6" width="1.4" height="6.2" fill="#000"/><rect x="410.4" y="218.6" width="1.4" height="6.2" fill="#000"/><rect x="414.1" y="218.6" width="1.4" height="6.2" fill="#000"/><rect x="417.8" y="218.6" width="1.4" height="6.2" fill="#000"/><rect x="421.5" y="218.6" width="1.4" height="6.2" fill="#000"/><rect x="435" y="218.6" width="32.9" height="6.2" rx="3.1" ry="3.1" fill="#140800"/><rect x="436" y="218.85" width="30.9" height="1.7" fill="#8c6a1e"/><rect x="435.5" y="220.7" width="31.9" height="2" fill="#981010"/><rect x="436" y="222.85" width="30.9" height="1.7" fill="#8c6a1e"/><rect x="435.8" y="218.6" width="1.4" height="6.2" fill="#000"/><rect x="439.5" y="218.6" width="1.4" height="6.2" fill="#000"/><rect x="443.2" y="218.6" width="1.4" height="6.2" fill="#000"/><rect x="446.9" y="218.6" width="1.4" height="6.2" fill="#000"/><rect x="450.6" y="218.6" width="1.4" height="6.2" fill="#000"/><rect x="454.3" y="218.6" width="1.4" height="6.2" fill="#000"/><rect x="458" y="218.6" width="1.4" height="6.2" fill="#000"/><rect x="461.7" y="218.6" width="1.4" height="6.2" fill="#000"/><rect x="465.4" y="218.6" width="1.4" height="6.2" fill="#000"/><rect x="479.6" y="218.6" width="32.9" height="6.2" rx="3.1" ry="3.1" fill="#140800"/><rect x="480.6" y="218.85" width="30.9" height="1.7" fill="#8c6a1e"/><rect x="480.1" y="220.7" width="31.9" height="2" fill="#981010"/><rect x="480.6" y="222.85" width="30.9" height="1.7" fill="#8c6a1e"/><rect x="480.4" y="218.6" width="1.4" height="6.2" fill="#000"/><rect x="484.1" y="218.6" width="1.4" height="6.2" fill="#000"/><rect x="487.8" y="218.6" width="1.4" height="6.2" fill="#000"/><rect x="491.5" y="218.6" width="1.4" height="6.2" fill="#000"/><rect x="495.2" y="218.6" width="1.4" height="6.2" fill="#000"/><rect x="498.9" y="218.6" width="1.4" height="6.2" fill="#000"/><rect x="502.6" y="218.6" width="1.4" height="6.2" fill="#000"/><rect x="506.3" y="218.6" width="1.4" height="6.2" fill="#000"/><rect x="510" y="218.6" width="1.4" height="6.2" fill="#000"/><rect x="386.4" y="168.4" width="131" height="106.9" fill="none" stroke="#8c8c8c" stroke-width="1"/><line x1="384.6" y1="168.4" x2="386.4" y2="168.4" stroke="#8c8c8c" stroke-width="0.7"/><text x="383.4" y="170.3" text-anchor="end" font-family="'Liberation Sans', sans-serif" font-size="4.5" fill="#383838" textLength="5.0" lengthAdjust="spacingAndGlyphs">0.6</text><line x1="384.6" y1="186.22" x2="386.4" y2="186.22" stroke="#8c8c8c" stroke-width="0.7"/><text x="383.4" y="188.12" text-anchor="end" font-family="'Liberation Sans', sans-serif" font-size="4.5" fill="#383838" textLength="5.0" lengthAdjust="spacingAndGlyphs">0.4</text><line x1="384.6" y1="204.03" x2="386.4" y2="204.03" stroke="#8c8c8c" stroke-width="0.7"/><text x="383.4" y="205.93" text-anchor="end" font-family="'Liberation Sans', sans-serif" font-size="4.5" fill="#383838" textLength="5.0" lengthAdjust="spacingAndGlyphs">0.2</text><line x1="384.6" y1="221.85" x2="386.4" y2="221.85" stroke="#8c8c8c" stroke-width="0.7"/><text x="383.4" y="223.75" text-anchor="end" font-family="'Liberation Sans', sans-serif" font-size="4.5" fill="#383838" textLength="5.0" lengthAdjust="spacingAndGlyphs">0.0</text><line x1="384.6" y1="239.67" x2="386.4" y2="239.67" stroke="#8c8c8c" stroke-width="0.7"/><text x="383.4" y="241.57" text-anchor="end" font-family="'Liberation Sans', sans-serif" font-size="4.5" fill="#383838" textLength="7.6" lengthAdjust="spacingAndGlyphs">−0.2</text><line x1="384.6" y1="257.48" x2="386.4" y2="257.48" stroke="#8c8c8c" stroke-width="0.7"/><text x="383.4" y="259.38" text-anchor="end" font-family="'Liberation Sans', sans-serif" font-size="4.5" fill="#383838" textLength="7.6" lengthAdjust="spacingAndGlyphs">−0.4</text><line x1="384.6" y1="275.3" x2="386.4" y2="275.3" stroke="#8c8c8c" stroke-width="0.7"/><text x="383.4" y="277.2" text-anchor="end" font-family="'Liberation Sans', sans-serif" font-size="4.5" fill="#383838" textLength="7.6" lengthAdjust="spacingAndGlyphs">−0.6</text><line x1="386.8" y1="275.3" x2="386.8" y2="277.1" stroke="#8c8c8c" stroke-width="0.7"/><text x="384.3" y="280.9" font-family="'Liberation Sans', sans-serif" font-size="4.5" fill="#383838" textLength="5" lengthAdjust="spacingAndGlyphs">0.5</text><line x1="409.7" y1="275.3" x2="409.7" y2="277.1" stroke="#8c8c8c" stroke-width="0.7"/><text x="407.2" y="280.9" font-family="'Liberation Sans', sans-serif" font-size="4.5" fill="#383838" textLength="5" lengthAdjust="spacingAndGlyphs">1.0</text><line x1="431.9" y1="275.3" x2="431.9" y2="277.1" stroke="#8c8c8c" stroke-width="0.7"/><text x="429.4" y="280.9" font-family="'Liberation Sans', sans-serif" font-size="4.5" fill="#383838" textLength="5" lengthAdjust="spacingAndGlyphs">1.5</text><line x1="454.8" y1="275.3" x2="454.8" y2="277.1" stroke="#8c8c8c" stroke-width="0.7"/><text x="452.3" y="280.9" font-family="'Liberation Sans', sans-serif" font-size="4.5" fill="#383838" textLength="5" lengthAdjust="spacingAndGlyphs">2.0</text><line x1="477" y1="275.3" x2="477" y2="277.1" stroke="#8c8c8c" stroke-width="0.7"/><text x="474.5" y="280.9" font-family="'Liberation Sans', sans-serif" font-size="4.5" fill="#383838" textLength="5" lengthAdjust="spacingAndGlyphs">2.5</text><line x1="499.6" y1="275.3" x2="499.6" y2="277.1" stroke="#8c8c8c" stroke-width="0.7"/><text x="497.1" y="280.9" font-family="'Liberation Sans', sans-serif" font-size="4.5" fill="#383838" textLength="5" lengthAdjust="spacingAndGlyphs">3.0</text><text x="430.2" y="163.8" font-family="'Liberation Serif', serif" font-weight="bold" font-size="9.2" stroke="#000" stroke-width="0.25" textLength="26.1" lengthAdjust="spacingAndGlyphs">PPG: DN</text><text x="368.4" y="167.2" font-family="'Liberation Sans', sans-serif" font-weight="bold" font-size="10.8">g</text><text x="0" y="0" font-family="'Liberation Serif', serif" font-weight="bold" font-size="7.0" stroke="#000" stroke-width="0.25" textLength="76" lengthAdjust="spacingAndGlyphs" transform="translate(372.7 256.8) rotate(-90)">Reference – Tool (s)</text><text x="396.7" y="289.1" font-family="'Liberation Serif', serif" font-weight="bold" font-size="9.4" stroke="#000" stroke-width="0.2" textLength="91.3" lengthAdjust="spacingAndGlyphs">Mean of the Tool &amp; Reference (s)</text><text x="388.7" y="206.8" font-family="'Liberation Serif', serif" font-size="7.2" fill="#000" textLength="33.1" lengthAdjust="spacingAndGlyphs">Upper limit: 0.02</text><text x="388.1" y="246.6" font-family="'Liberation Serif', serif" font-size="7.2" fill="#000" textLength="35.6" lengthAdjust="spacingAndGlyphs">Lower limit: -0.02</text><text x="396.9" y="238.8" font-family="'Liberation Serif', serif" font-size="7.2" fill="#000" textLength="19.6" lengthAdjust="spacingAndGlyphs">Bias: 0.00</text><line x1="387.7" y1="219" x2="391.76" y2="212.58" stroke="#000" stroke-width="0.75"/><path d="M393.9,209.2 L393.03,213.38 L390.49,211.78 Z" fill="#000"/><line x1="401.3" y1="224.6" x2="401.35" y2="229.2" stroke="#000" stroke-width="0.75"/><path d="M401.4,233.2 L399.85,229.22 L402.85,229.18 Z" fill="#000"/><line x1="387.6" y1="224.2" x2="390.83" y2="237.12" stroke="#000" stroke-width="0.75"/><path d="M391.8,241 L389.37,237.48 L392.29,236.76 Z" fill="#000"/></g><g><line x1="551.4" y1="218.6" x2="682.35" y2="218.6" stroke="#f3d68e" stroke-width="2.0" stroke-dasharray="2.95 0.93" stroke-dashoffset="0"/><line x1="551.4" y1="220.6" x2="682.35" y2="220.6" stroke="#f49a9a" stroke-width="2.0" stroke-dasharray="2.95 0.93" stroke-dashoffset="0"/><line x1="551.4" y1="222.6" x2="682.35" y2="222.6" stroke="#f3d68e" stroke-width="2.0" stroke-dasharray="2.95 0.93" stroke-dashoffset="0"/><rect x="556.1" y="217.5" width="33.4" height="6.2" rx="3.1" ry="3.1" fill="#140800"/><rect x="557.1" y="217.75" width="31.4" height="1.7" fill="#8c6a1e"/><rect x="556.6" y="219.6" width="32.4" height="2" fill="#981010"/><rect x="557.1" y="221.75" width="31.4" height="1.7" fill="#8c6a1e"/><rect x="556.9" y="217.5" width="1.4" height="6.2" fill="#000"/><rect x="560.6" y="217.5" width="1.4" height="6.2" fill="#000"/><rect x="564.3" y="217.5" width="1.4" height="6.2" fill="#000"/><rect x="568" y="217.5" width="1.4" height="6.2" fill="#000"/><rect x="571.7" y="217.5" width="1.4" height="6.2" fill="#000"/><rect x="575.4" y="217.5" width="1.4" height="6.2" fill="#000"/><rect x="579.1" y="217.5" width="1.4" height="6.2" fill="#000"/><rect x="582.8" y="217.5" width="1.4" height="6.2" fill="#000"/><rect x="586.5" y="217.5" width="1.4" height="6.2" fill="#000"/><rect x="600.6" y="217.5" width="32.8" height="6.2" rx="3.1" ry="3.1" fill="#140800"/><rect x="601.6" y="217.75" width="30.8" height="1.7" fill="#8c6a1e"/><rect x="601.1" y="219.6" width="31.8" height="2" fill="#981010"/><rect x="601.6" y="221.75" width="30.8" height="1.7" fill="#8c6a1e"/><rect x="601.4" y="217.5" width="1.4" height="6.2" fill="#000"/><rect x="605.1" y="217.5" width="1.4" height="6.2" fill="#000"/><rect x="608.8" y="217.5" width="1.4" height="6.2" fill="#000"/><rect x="612.5" y="217.5" width="1.4" height="6.2" fill="#000"/><rect x="616.2" y="217.5" width="1.4" height="6.2" fill="#000"/><rect x="619.9" y="217.5" width="1.4" height="6.2" fill="#000"/><rect x="623.6" y="217.5" width="1.4" height="6.2" fill="#000"/><rect x="627.3" y="217.5" width="1.4" height="6.2" fill="#000"/><rect x="631" y="217.5" width="1.4" height="6.2" fill="#000"/><rect x="644.6" y="217.5" width="32.9" height="6.2" rx="3.1" ry="3.1" fill="#140800"/><rect x="645.6" y="217.75" width="30.9" height="1.7" fill="#8c6a1e"/><rect x="645.1" y="219.6" width="31.9" height="2" fill="#981010"/><rect x="645.6" y="221.75" width="30.9" height="1.7" fill="#8c6a1e"/><rect x="645.4" y="217.5" width="1.4" height="6.2" fill="#000"/><rect x="649.1" y="217.5" width="1.4" height="6.2" fill="#000"/><rect x="652.8" y="217.5" width="1.4" height="6.2" fill="#000"/><rect x="656.5" y="217.5" width="1.4" height="6.2" fill="#000"/><rect x="660.2" y="217.5" width="1.4" height="6.2" fill="#000"/><rect x="663.9" y="217.5" width="1.4" height="6.2" fill="#000"/><rect x="667.6" y="217.5" width="1.4" height="6.2" fill="#000"/><rect x="671.3" y="217.5" width="1.4" height="6.2" fill="#000"/><rect x="675" y="217.5" width="1.4" height="6.2" fill="#000"/><rect x="551.4" y="168" width="130.95" height="106.3" fill="none" stroke="#8c8c8c" stroke-width="1"/><line x1="549.6" y1="168" x2="551.4" y2="168" stroke="#8c8c8c" stroke-width="0.7"/><text x="548.4" y="169.9" text-anchor="end" font-family="'Liberation Sans', sans-serif" font-size="4.5" fill="#383838" textLength="5.0" lengthAdjust="spacingAndGlyphs">0.6</text><line x1="549.6" y1="185.72" x2="551.4" y2="185.72" stroke="#8c8c8c" stroke-width="0.7"/><text x="548.4" y="187.62" text-anchor="end" font-family="'Liberation Sans', sans-serif" font-size="4.5" fill="#383838" textLength="5.0" lengthAdjust="spacingAndGlyphs">0.4</text><line x1="549.6" y1="203.43" x2="551.4" y2="203.43" stroke="#8c8c8c" stroke-width="0.7"/><text x="548.4" y="205.33" text-anchor="end" font-family="'Liberation Sans', sans-serif" font-size="4.5" fill="#383838" textLength="5.0" lengthAdjust="spacingAndGlyphs">0.2</text><line x1="549.6" y1="221.15" x2="551.4" y2="221.15" stroke="#8c8c8c" stroke-width="0.7"/><text x="548.4" y="223.05" text-anchor="end" font-family="'Liberation Sans', sans-serif" font-size="4.5" fill="#383838" textLength="5.0" lengthAdjust="spacingAndGlyphs">0.0</text><line x1="549.6" y1="238.87" x2="551.4" y2="238.87" stroke="#8c8c8c" stroke-width="0.7"/><text x="548.4" y="240.77" text-anchor="end" font-family="'Liberation Sans', sans-serif" font-size="4.5" fill="#383838" textLength="7.6" lengthAdjust="spacingAndGlyphs">−0.2</text><line x1="549.6" y1="256.58" x2="551.4" y2="256.58" stroke="#8c8c8c" stroke-width="0.7"/><text x="548.4" y="258.48" text-anchor="end" font-family="'Liberation Sans', sans-serif" font-size="4.5" fill="#383838" textLength="7.6" lengthAdjust="spacingAndGlyphs">−0.4</text><line x1="549.6" y1="274.3" x2="551.4" y2="274.3" stroke="#8c8c8c" stroke-width="0.7"/><text x="548.4" y="276.2" text-anchor="end" font-family="'Liberation Sans', sans-serif" font-size="4.5" fill="#383838" textLength="7.6" lengthAdjust="spacingAndGlyphs">−0.6</text><line x1="569.6" y1="274.3" x2="569.6" y2="276.1" stroke="#8c8c8c" stroke-width="0.7"/><text x="567.1" y="279.9" font-family="'Liberation Sans', sans-serif" font-size="4.5" fill="#383838" textLength="5" lengthAdjust="spacingAndGlyphs">1.0</text><line x1="591.6" y1="274.3" x2="591.6" y2="276.1" stroke="#8c8c8c" stroke-width="0.7"/><text x="589.1" y="279.9" font-family="'Liberation Sans', sans-serif" font-size="4.5" fill="#383838" textLength="5" lengthAdjust="spacingAndGlyphs">1.5</text><line x1="614.2" y1="274.3" x2="614.2" y2="276.1" stroke="#8c8c8c" stroke-width="0.7"/><text x="611.7" y="279.9" font-family="'Liberation Sans', sans-serif" font-size="4.5" fill="#383838" textLength="5" lengthAdjust="spacingAndGlyphs">2.0</text><line x1="636.4" y1="274.3" x2="636.4" y2="276.1" stroke="#8c8c8c" stroke-width="0.7"/><text x="633.9" y="279.9" font-family="'Liberation Sans', sans-serif" font-size="4.5" fill="#383838" textLength="5" lengthAdjust="spacingAndGlyphs">2.5</text><line x1="658.5" y1="274.3" x2="658.5" y2="276.1" stroke="#8c8c8c" stroke-width="0.7"/><text x="656" y="279.9" font-family="'Liberation Sans', sans-serif" font-size="4.5" fill="#383838" textLength="5" lengthAdjust="spacingAndGlyphs">3.0</text><line x1="680.5" y1="274.3" x2="680.5" y2="276.1" stroke="#8c8c8c" stroke-width="0.7"/><text x="678" y="279.9" font-family="'Liberation Sans', sans-serif" font-size="4.5" fill="#383838" textLength="5" lengthAdjust="spacingAndGlyphs">3.5</text><text x="608.2" y="164.3" font-family="'Liberation Serif', serif" font-weight="bold" font-size="9.2" stroke="#000" stroke-width="0.25" textLength="29.1" lengthAdjust="spacingAndGlyphs">PPG: DPP</text><text x="533" y="169.3" font-family="'Liberation Sans', sans-serif" font-weight="bold" font-size="10.8">h</text><text x="0" y="0" font-family="'Liberation Serif', serif" font-weight="bold" font-size="7.0" stroke="#000" stroke-width="0.25" textLength="73.7" lengthAdjust="spacingAndGlyphs" transform="translate(538.3 257.5) rotate(-90)">Reference – Tool (s)</text><text x="561.9" y="289.1" font-family="'Liberation Serif', serif" font-weight="bold" font-size="9.4" stroke="#000" stroke-width="0.2" textLength="92.1" lengthAdjust="spacingAndGlyphs">Mean of the Tool &amp; Reference (s)</text><text x="554.8" y="205.6" font-family="'Liberation Serif', serif" font-size="7.2" fill="#000" textLength="33.8" lengthAdjust="spacingAndGlyphs">Upper limit: 0.02</text><text x="553.7" y="247.8" font-family="'Liberation Serif', serif" font-size="7.2" fill="#000" textLength="35.7" lengthAdjust="spacingAndGlyphs">Lower limit: -0.02</text><text x="561.2" y="232.3" font-family="'Liberation Serif', serif" font-size="7.2" fill="#000" textLength="19.4" lengthAdjust="spacingAndGlyphs">Bias: 0.00</text><line x1="552.7" y1="217.8" x2="557.08" y2="211.23" stroke="#000" stroke-width="0.75"/><path d="M559.3,207.9 L558.33,212.06 L555.83,210.4 Z" fill="#000"/><line x1="566.8" y1="227.6" x2="567.45" y2="226.91" stroke="#000" stroke-width="0.75"/><path d="M570.2,224 L568.54,227.94 L566.36,225.88 Z" fill="#000"/><line x1="552.7" y1="223.2" x2="555.56" y2="238.47" stroke="#000" stroke-width="0.75"/><path d="M556.3,242.4 L554.09,238.74 L557.04,238.19 Z" fill="#000"/></g>
</svg>
</body></html>
